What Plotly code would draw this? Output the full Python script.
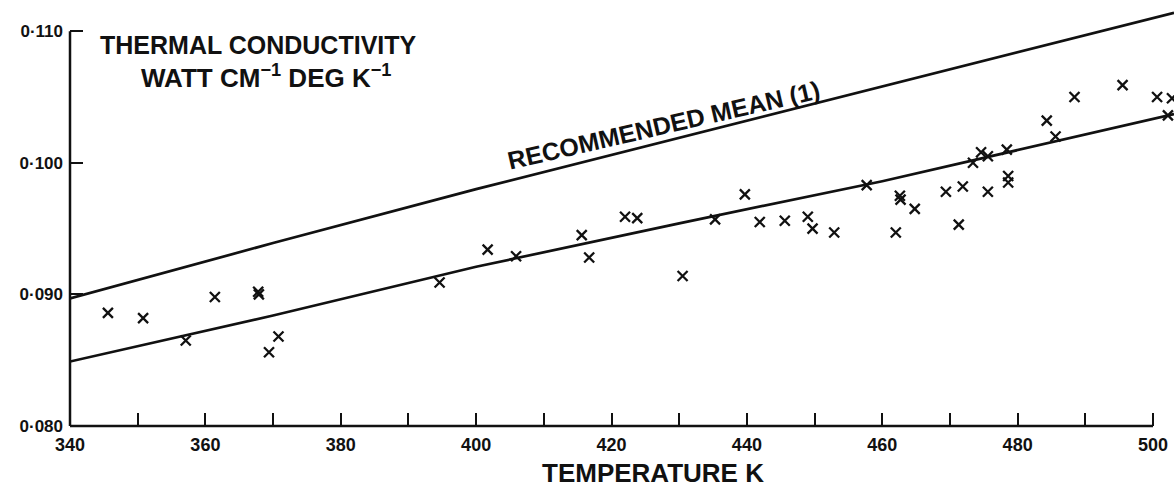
import plotly.graph_objects as go

# ---- data ----
temp_K = [345.6, 350.8, 357.1, 361.4, 367.8, 367.9, 369.4, 370.8, 394.6,
          401.7, 405.9, 415.6, 416.7, 422.0, 423.8, 430.5, 435.3, 439.7,
          441.9, 445.6, 449.0, 449.7, 452.9, 457.7, 462.0, 462.6, 462.7,
          464.8, 469.4, 471.9, 471.3, 473.4, 474.6, 475.6, 475.6, 478.4,
          478.6, 478.6, 484.3, 485.6, 488.4, 495.5, 500.6, 502.8, 502.2]
conductivity = [0.0886, 0.0882, 0.0865, 0.0898, 0.0902, 0.0900, 0.0856, 0.0868, 0.0909,
                0.0934, 0.0929, 0.0945, 0.0928, 0.0959, 0.0958, 0.0914, 0.0957, 0.0976,
                0.0955, 0.0956, 0.0959, 0.0950, 0.0947, 0.0983, 0.0947, 0.0975, 0.0972,
                0.0965, 0.0978, 0.0982, 0.0953, 0.1000, 0.1008, 0.1005, 0.0978, 0.1010,
                0.0990, 0.0985, 0.1032, 0.1020, 0.1050, 0.1059, 0.1050, 0.1049, 0.1036]

mean_T = [340, 370, 400, 430, 460, 503.1]
recommended_mean = [0.0897, 0.0939, 0.0980, 0.1019, 0.1058, 0.1114]
fit_line = [0.0849, 0.0884, 0.0921, 0.0954, 0.0986, 0.1037]

x_tickvals = list(range(340, 501, 20))
x_ticktext = [str(v) for v in x_tickvals]
x_minor_tickvals = list(range(350, 500, 20))
y_tickvals = [0.080, 0.090, 0.100, 0.110]
y_ticktext = ["0·080", "0·090", "0·100", "0·110"]

FONT = "Liberation Sans"
INK = "#111111"

fig = go.Figure()
fig.add_trace(go.Scatter(x=mean_T, y=recommended_mean, mode="lines",
                         line=dict(color=INK, width=2.7), showlegend=False))
fig.add_trace(go.Scatter(x=mean_T, y=fit_line, mode="lines",
                         line=dict(color=INK, width=2.7), showlegend=False))
fig.add_trace(go.Scatter(x=temp_K, y=conductivity, mode="markers",
                         marker=dict(symbol="x-thin", size=10, color=INK,
                                     line=dict(color=INK, width=2.3)),
                         showlegend=False))

fig.update_layout(
    width=1174, height=488,
    margin=dict(l=70, r=0, t=0, b=62),
    paper_bgcolor="white", plot_bgcolor="white",
    xaxis=dict(range=[340, 503.1], showgrid=False, zeroline=False, showline=False,
               tickmode="array", tickvals=x_tickvals, ticktext=x_ticktext, ticks="inside",
               ticklen=13, tickwidth=2, tickcolor=INK, ticklabelstandoff=6,
               tickfont=dict(family=FONT, size=18, color=INK, weight="bold"),
               minor=dict(tickmode="array", tickvals=x_minor_tickvals, ticks="inside",
                          ticklen=13, tickwidth=2, tickcolor=INK, showgrid=False)),
    yaxis=dict(range=[0.080, 0.11237], showgrid=False, zeroline=False, showline=False,
               tickvals=y_tickvals, ticktext=y_ticktext, ticks="inside",
               ticklen=13, tickwidth=2, tickcolor=INK, ticklabelstandoff=6,
               tickfont=dict(family=FONT, size=17, color=INK, weight="bold")),
    shapes=[
        dict(type="line", xref="x", yref="paper", x0=340, x1=500, y0=0, y1=0,
             line=dict(color=INK, width=2.5)),
        dict(type="line", xref="paper", yref="y", x0=0, x1=0, y0=0.080, y1=0.110,
             line=dict(color=INK, width=2.5)),
    ],
    annotations=[
        dict(text="THERMAL CONDUCTIVITY", x=367.9, y=0.10895, xref="x", yref="y",
             showarrow=False, xanchor="center", yanchor="middle",
             font=dict(family=FONT, size=25, color=INK, weight="bold")),
        dict(text="WATT CM<sup>−1</sup> DEG K<sup>−1</sup>", x=369.0, y=0.10652,
             xref="x", yref="y", showarrow=False, xanchor="center", yanchor="middle",
             font=dict(family=FONT, size=26, color=INK, weight="bold")),
        dict(text="RECOMMENDED MEAN (1)", x=427.75, y=0.10287, xref="x", yref="y",
             showarrow=False, xanchor="center", yanchor="middle", textangle=-13,
             font=dict(family=FONT, size=25, color=INK, weight="bold")),
        dict(text="TEMPERATURE K", x=426.1, y=-0.1103, xref="x", yref="paper",
             showarrow=False, xanchor="center", yanchor="middle",
             font=dict(family=FONT, size=26, color=INK, weight="bold")),
    ],
)

fig.write_html("out.html", config={"displayModeBar": False},
               post_script="document.body.style.margin='0';document.body.style.overflow='hidden';")
